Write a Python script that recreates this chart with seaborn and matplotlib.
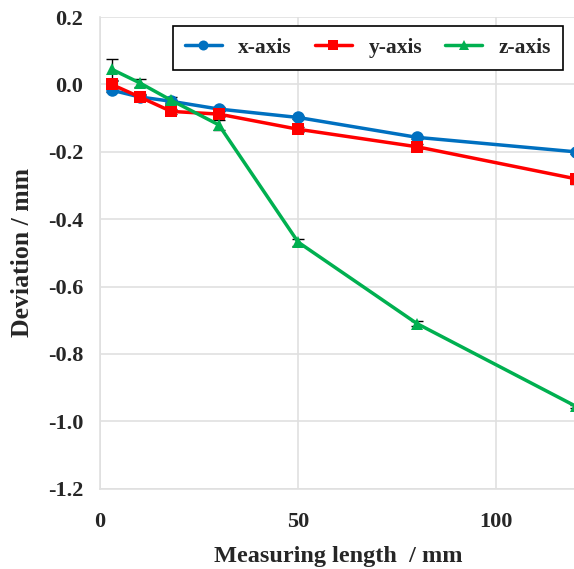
import numpy as np
import pandas as pd
import matplotlib
matplotlib.use('Agg')
import matplotlib.pyplot as plt
import seaborn as sns

# data
length = [3, 10, 18, 30, 50, 80, 120]
dev_x = [-0.017, -0.037, -0.05, -0.073, -0.098, -0.157, -0.2]
dev_y = [0.0, -0.037, -0.08, -0.088, -0.133, -0.185, -0.28]
dev_z = [0.045, 0.005, -0.047, -0.12, -0.468, -0.71, -0.955]
err_x = [0.005, 0.005, 0.005, 0.005, 0.005, 0.005, 0.005]
err_y = [0.01, 0.008, 0.008, 0.008, 0.008, 0.008, 0.015]
err_z = [0.032, 0.012, 0.01, 0.015, 0.01, 0.008, 0.005]
yticks = [-1.2, -1.0, -0.8, -0.6, -0.4, -0.2, 0.0, 0.2]
ytick_labels = ['-1.2', '-1.0', '-0.8', '-0.6', '-0.4', '-0.2', '0.0', '0.2']

sns.set_style('white')
plt.rcParams['font.family'] = ['Liberation Serif', 'DejaVu Serif']
plt.rcParams['font.weight'] = 'bold'
plt.rcParams['axes.unicode_minus'] = False

df = pd.DataFrame({
    'length': length * 3,
    'dev': dev_x + dev_y + dev_z,
    'err': err_x + err_y + err_z,
    'axis': ['x-axis'] * 7 + ['y-axis'] * 7 + ['z-axis'] * 7,
})

colors = {'x-axis': '#0070C0', 'y-axis': '#FF0000', 'z-axis': '#00B050'}
markers = {'x-axis': 'o', 'y-axis': 's', 'z-axis': '^'}

fig = plt.figure(figsize=(5.74, 5.69), dpi=100)
ax = fig.add_axes([0.174, 0.141, 0.829, 0.829])

# error bars first so the markers sit on top
for name, grp in df.groupby('axis'):
    ax.errorbar(grp['length'], grp['dev'], yerr=grp['err'], fmt='none',
                ecolor='black', elinewidth=1, capsize=4, capthick=1, zorder=2)

sns.lineplot(data=df, x='length', y='dev', hue='axis', style='axis',
             palette=colors, markers=markers, dashes=False, linewidth=2.5,
             markersize=9, markeredgewidth=0, ax=ax, zorder=3)

ax.set_xlim(0, 120)
ax.set_ylim(-1.2, 0.2)
ax.set_xticks([0, 50, 100])
ax.set_yticks(yticks)
ax.set_yticklabels(ytick_labels)
ax.grid(True, color='#e0e0e0', linewidth=1.2)
for s in ['top', 'right']:
    ax.spines[s].set_visible(False)
for s in ['left', 'bottom']:
    ax.spines[s].set_color('#e0e0e0')
    ax.spines[s].set_linewidth(1.2)
ax.tick_params(axis='y', length=0, labelsize=16, pad=12)
ax.tick_params(axis='x', length=0, labelsize=16, pad=17)
for lab in ax.get_xticklabels() + ax.get_yticklabels():
    lab.set_fontweight('bold')

ax.set_xlabel('Measuring length  / mm', fontsize=17.5, fontweight='bold', labelpad=10)
ax.set_ylabel('Deviation / mm', fontsize=18.5, fontweight='bold', labelpad=10)

leg = ax.legend(loc='upper right', ncol=3, bbox_to_anchor=(0.9727, 0.981),
                borderaxespad=0, frameon=True, fancybox=False,
                handlelength=1.75, columnspacing=1.05, handletextpad=0.75,
                borderpad=0.55, markerscale=0.8,
                prop={'weight': 'bold', 'size': 15.5})
leg.get_frame().set_edgecolor('black')
leg.get_frame().set_linewidth(1.2)
leg.get_frame().set_alpha(1)

fig.savefig('out.png', dpi=100)
